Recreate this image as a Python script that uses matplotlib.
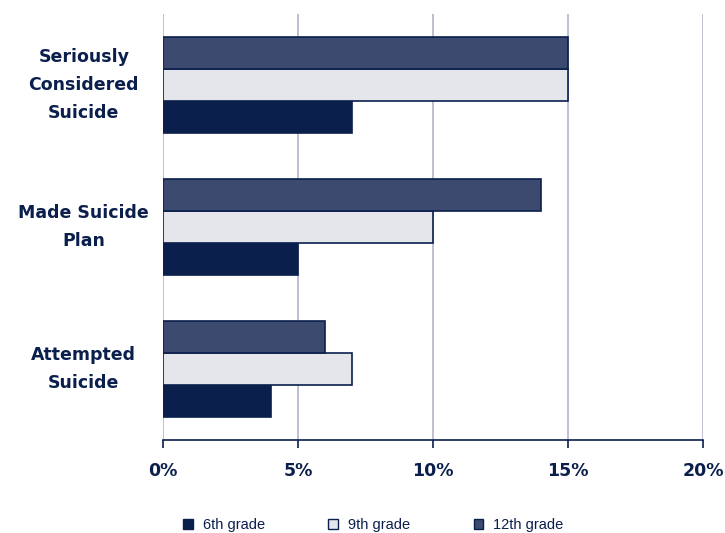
import matplotlib.pyplot as plt
import numpy as np
from matplotlib.patches import Patch

# data, bottom to top
categories = ['Attempted\nSuicide', 'Made Suicide\nPlan', 'Seriously\nConsidered\nSuicide']
grade6 = [4, 5, 7]
grade9 = [7, 10, 15]
grade12 = [6, 14, 15]
x_ticks = [0, 5, 10, 15, 20]

NAVY = '#0b1f4d'
c6 = '#0b1f4d'
c9 = '#e4e6ec'
c12 = '#3d4a70'


def main():
    plt.rcParams['font.family'] = ['DejaVu Sans']
    fig = plt.figure(figsize=(7.25, 5.33), dpi=100)
    ax = fig.add_axes([163 / 725, 1 - 440 / 533, 540 / 725, 426 / 533])

    y = np.arange(len(categories))
    h = 0.225
    ax.barh(y - h, grade6, height=h, color=c6, edgecolor=NAVY, linewidth=1.2, zorder=3)
    ax.barh(y, grade9, height=h, color=c9, edgecolor=NAVY, linewidth=1.2, zorder=3)
    ax.barh(y + h, grade12, height=h, color=c12, edgecolor=NAVY, linewidth=1.2, zorder=3)

    ax.set_xlim(0, 20)
    ax.set_ylim(-0.5, 2.5)
    ax.set_xticks(x_ticks)
    ax.set_xticklabels([f'{t}%' for t in x_ticks])
    ax.set_yticks(y)
    ax.set_yticklabels(categories, ha='center', va='center', linespacing=1.75)
    ax.tick_params(axis='y', length=0, pad=57)
    ax.tick_params(axis='x', length=6, width=1.2, color=NAVY, pad=10)
    for lab in ax.get_xticklabels() + ax.get_yticklabels():
        lab.set_fontweight('bold')
        lab.set_fontsize(12.5)
        lab.set_color(NAVY)

    ax.grid(axis='x', color='#b4b4cc', linewidth=1.2, zorder=0)
    for s in ['top', 'right', 'left']:
        ax.spines[s].set_visible(False)
    ax.spines['bottom'].set_color(NAVY)
    ax.spines['bottom'].set_linewidth(1.2)

    handles = [Patch(facecolor=c, edgecolor=NAVY, linewidth=1) for c in (c6, c9, c12)]
    fig.legend(handles, ['6th grade', '9th grade', '12th grade'], loc='center',
               bbox_to_anchor=(0.515, 0.015), ncol=3, frameon=False,
               prop={'family': 'Liberation Sans', 'size': 10.5},
               handlelength=0.65, handleheight=0.65, columnspacing=4.35, handletextpad=0.7,
               labelcolor=NAVY)

    fig.savefig('out.png', dpi=100)


if __name__ == '__main__':
    main()
